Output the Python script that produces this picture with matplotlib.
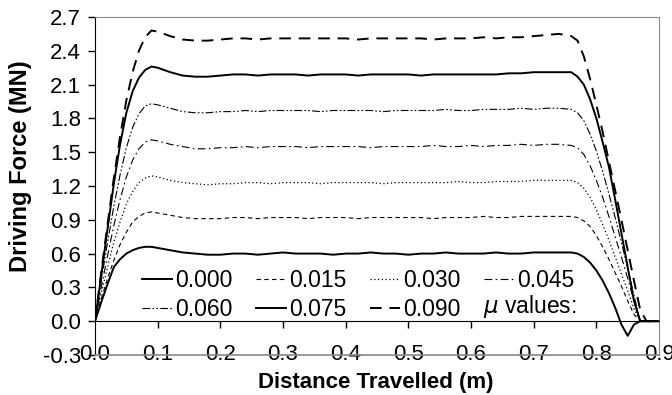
import matplotlib
matplotlib.use('Agg')
import matplotlib.pyplot as plt

plt.rcParams['font.family'] = ['Liberation Sans', 'DejaVu Sans']

# distance travelled (m), shared by all curves
x = [0, .01, .02, .03, .04, .05, .06, .07, .08, .09, .10,
     .12, .14, .16, .18, .20, .22, .24, .26, .28, .30, .32, .34, .36, .38, .40,
     .42, .44, .46, .48, .50, .52, .54, .56, .58, .60, .62, .64, .66, .68, .70,
     .72, .74, .76,
     .77, .78, .79, .80, .81, .82, .83, .84, .85, .86, .87, .88, .90]

mu_labels = ['0.000', '0.015', '0.030', '0.045', '0.060', '0.075', '0.090']

f000 = [0, 0.17, 0.33, 0.48, 0.55, 0.60, 0.63, 0.65, 0.66, 0.66, 0.65,
        0.63, 0.61, 0.60, 0.59, 0.59, 0.60, 0.60, 0.59, 0.60, 0.61,
        0.60, 0.60, 0.60, 0.59, 0.60, 0.60, 0.61, 0.60, 0.60, 0.59,
        0.60, 0.60, 0.61, 0.60, 0.60, 0.60, 0.61, 0.60, 0.60, 0.61,
        0.61, 0.61, 0.61,
        0.60, 0.57, 0.52, 0.45, 0.36, 0.25, 0.12, -0.03, -0.13, -0.03, 0.0, 0.0, 0.0]
f015 = [0, 0.20, 0.38, 0.54, 0.68, 0.79, 0.88, 0.93, 0.96, 0.97, 0.96,
        0.94, 0.92, 0.91, 0.91, 0.91, 0.92, 0.92, 0.91, 0.92, 0.92,
        0.92, 0.91, 0.92, 0.92, 0.92, 0.91, 0.92, 0.92, 0.92, 0.92,
        0.92, 0.91, 0.92, 0.92, 0.92, 0.93, 0.92, 0.92, 0.93, 0.93,
        0.93, 0.93, 0.93,
        0.92, 0.89, 0.84, 0.76, 0.66, 0.55, 0.43, 0.31, 0.18, 0.06, 0.0, 0.0, 0.0]
f030 = [0, 0.25, 0.48, 0.70, 0.88, 1.04, 1.15, 1.23, 1.27, 1.29, 1.28,
        1.25, 1.23, 1.22, 1.21, 1.22, 1.22, 1.23, 1.23, 1.22, 1.23,
        1.23, 1.23, 1.22, 1.23, 1.23, 1.23, 1.23, 1.22, 1.23, 1.23,
        1.23, 1.23, 1.23, 1.24, 1.23, 1.23, 1.24, 1.24, 1.24, 1.25,
        1.25, 1.25, 1.25,
        1.23, 1.18, 1.10, 0.99, 0.86, 0.72, 0.57, 0.42, 0.27, 0.11, 0.0, 0.0, 0.0]
f045 = [0, 0.30, 0.58, 0.85, 1.08, 1.28, 1.43, 1.53, 1.59, 1.61, 1.60,
        1.57, 1.55, 1.53, 1.53, 1.54, 1.54, 1.55, 1.54, 1.55, 1.55,
        1.55, 1.54, 1.55, 1.55, 1.55, 1.55, 1.54, 1.55, 1.55, 1.55,
        1.55, 1.56, 1.55, 1.55, 1.56, 1.55, 1.56, 1.56, 1.57, 1.56,
        1.57, 1.57, 1.56,
        1.54, 1.48, 1.38, 1.25, 1.10, 0.93, 0.75, 0.57, 0.38, 0.18, 0.0, 0.0, 0.0]
f060 = [0, 0.36, 0.70, 1.02, 1.30, 1.54, 1.72, 1.84, 1.91, 1.93, 1.92,
        1.89, 1.86, 1.85, 1.85, 1.86, 1.86, 1.87, 1.86, 1.87, 1.87,
        1.87, 1.87, 1.86, 1.87, 1.87, 1.87, 1.87, 1.86, 1.87, 1.87,
        1.87, 1.87, 1.88, 1.87, 1.87, 1.88, 1.88, 1.88, 1.89, 1.88,
        1.89, 1.89, 1.88,
        1.85, 1.78, 1.66, 1.51, 1.33, 1.13, 0.92, 0.70, 0.47, 0.23, 0.0, 0.0, 0.0]
f075 = [0, 0.41, 0.82, 1.22, 1.57, 1.85, 2.04, 2.16, 2.23, 2.26, 2.25,
        2.21, 2.18, 2.17, 2.17, 2.18, 2.19, 2.19, 2.18, 2.19, 2.19,
        2.19, 2.18, 2.19, 2.19, 2.19, 2.18, 2.19, 2.19, 2.19, 2.19,
        2.18, 2.19, 2.19, 2.19, 2.19, 2.19, 2.19, 2.20, 2.20, 2.21,
        2.21, 2.21, 2.21,
        2.17, 2.10, 1.97, 1.80, 1.59, 1.37, 1.08, 0.78, 0.48, 0.18, 0.0, 0.0, 0.0]
f090 = [0, 0.44, 0.86, 1.27, 1.64, 1.96, 2.21, 2.40, 2.52, 2.58, 2.57,
        2.53, 2.50, 2.49, 2.49, 2.50, 2.51, 2.51, 2.50, 2.51, 2.51,
        2.51, 2.51, 2.51, 2.51, 2.51, 2.50, 2.51, 2.51, 2.51, 2.51,
        2.51, 2.50, 2.51, 2.51, 2.51, 2.52, 2.51, 2.52, 2.52, 2.53,
        2.54, 2.55, 2.53,
        2.49, 2.35, 2.15, 1.92, 1.68, 1.42, 1.16, 0.90, 0.63, 0.36, 0.10, 0.0, 0.0]

curves = [f000, f015, f030, f045, f060, f075, f090]
styles = [('-', 1.4), ((0, (4, 3)), 0.8), ((0, (1, 2)), 0.9),
          ((0, (7, 3, 1.5, 3)), 0.8), ((0, (7, 2, 1.5, 2, 1.5, 2)), 0.8),
          ('-', 1.4), ((0, (6, 4)), 1.4)]

fig = plt.figure(figsize=(6.72, 3.95), dpi=100)
ax = fig.add_axes([0.1414, 0.1013, 0.8393, 0.8557])

lines = []
for f, lab, (ls, lw) in zip(curves, mu_labels, styles):
    ln, = ax.plot(x, f, color='black', linestyle=ls, linewidth=lw, label=lab)
    lines.append(ln)

ax.set_xlim(0, 0.9)
ax.set_ylim(-0.3, 2.7)
ax.set_yticks([-0.3, 0.0, 0.3, 0.6, 0.9, 1.2, 1.5, 1.8, 2.1, 2.4, 2.7])
ax.set_yticklabels(['-0.3', '0.0', '0.3', '0.6', '0.9', '1.2', '1.5', '1.8',
                    '2.1', '2.4', '2.7'])
ax.tick_params(axis='y', direction='out', length=5, width=1, labelsize=16, pad=5)

# x axis crosses at y=0, labels sit on the bottom frame
ax.spines['bottom'].set_position(('data', 0))
ax.spines['bottom'].set_color('black')
ax.spines['left'].set_color('black')
for s in ['top', 'right']:
    ax.spines[s].set_color('#888888')
ax.set_xticks([0.1, 0.2, 0.3, 0.4, 0.5, 0.6, 0.7, 0.8])
ax.set_xticklabels([])
ax.tick_params(axis='x', direction='out', length=5, width=1)
ax.axhline(-0.3, color='#888888', linewidth=1.2, zorder=3, clip_on=False)

xlabels = ['0.0', '0.1', '0.2', '0.3', '0.4', '0.5', '0.6', '0.7', '0.8', '0.9']
for i, t in enumerate(xlabels):
    ax.text(i * 0.1, -0.3, t, ha='center', va='center', fontsize=16,
            clip_on=False, zorder=1)

ax.set_xlabel('Distance Travelled (m)', fontsize=16, fontweight='bold')
ax.xaxis.set_label_coords(0.498, -0.05)
ax.set_ylabel('Driving Force (MN)', fontsize=17, fontweight='bold')
ax.yaxis.set_label_coords(-0.112, 0.559)

order = [0, 4, 1, 5, 2, 6, 3]
ax.legend([lines[i] for i in order], [mu_labels[i] for i in order], ncol=4,
          loc='lower left', bbox_to_anchor=(0.055, 0.052), frameon=False,
          fontsize=16.5, handlelength=1.3, handletextpad=0.15,
          columnspacing=1.02, labelspacing=0.28, borderpad=0.2)
ax.text(0.619, 0.133, r'$\mu$ values:', fontsize=16.5, va='center', ha='left')

fig.savefig('out.png', dpi=100)
